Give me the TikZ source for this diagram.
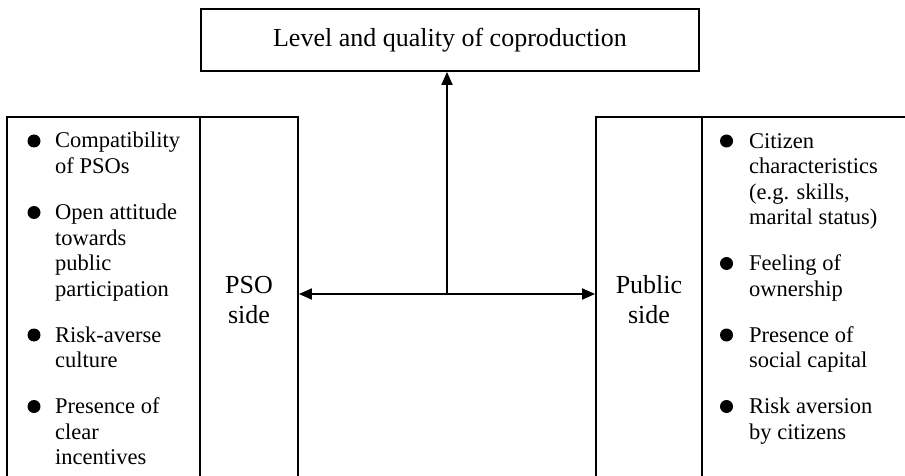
\documentclass[tikz,border=0pt]{standalone}
\usepackage{fontspec}
\setmainfont{Liberation Serif}
\usetikzlibrary{arrows.meta}
\begin{document}
\begin{tikzpicture}[x=1pt,y=-1pt,
  frame/.style={draw, line width=1.9pt, inner sep=0pt},
  conn/.style={line width=1.9pt, -{Triangle[length=13pt,width=11pt]}},
  % multi-line nodes: the base anchor sits on the last line
  item/.style={anchor=base west, inner sep=0pt, align=left,
    font=\fontsize{22.5}{25.5}\selectfont},
  sidelabel/.style={anchor=base, inner sep=0pt, align=center,
    font=\fontsize{26}{30.5}\selectfont},
  dot/.style={circle, fill, inner sep=0pt, minimum size=13pt}]
\useasboundingbox (0,0) rectangle (905,476);
\clip (0,0) rectangle (905,476);

% outcome box
\node[frame, minimum width=498pt, minimum height=62pt,
  font=\fontsize{26}{30}\selectfont] (top) at (450,40)
  {Level and quality of coproduction};

% PSO side: list column and label column
\node[frame, minimum width=193pt, minimum height=420pt] (psolist) at (103.5,327) {};
\node[frame, minimum width=98pt, minimum height=420pt] (psocol) at (249,327) {};
\node[sidelabel] (pso) at (249,323.5) {PSO\\side};

% public side: label column and list column
\node[frame, minimum width=106pt, minimum height=420pt] (pubcol) at (649,327) {};
\node[frame, minimum width=240pt, minimum height=420pt] (publist) at (822,327) {};
\node[sidelabel] (pub) at (649,323.5) {Public\\side};

% PSO side factors
\node[dot] (b1) at (34,141) {};
\node[item] (l1) at (55,173.5) {Compatibility\\of PSOs};
\node[dot] (b2) at (34,212.5) {};
\node[item] (l2) at (55,296) {Open attitude\\towards\\public\\participation};
\node[dot] (b3) at (34,335) {};
\node[item] (l3) at (55,367.5) {Risk-averse\\culture};
\node[dot] (b4) at (34,406.5) {};
\node[item] (l4) at (55,464.5) {Presence of\\clear\\incentives};

% public side factors
\node[dot] (c1) at (726.5,141) {};
\node[item] (r1) at (749,224.5) {Citizen\\characteristics\\(e.g. skills,\\marital status)};
\node[dot] (c2) at (726.5,263.5) {};
\node[item] (r2) at (749,296) {Feeling of\\ownership};
\node[dot] (c3) at (726.5,335) {};
\node[item] (r3) at (749,367.5) {Presence of\\social capital};
\node[dot] (c4) at (726.5,406.5) {};
\node[item] (r4) at (749,439) {Risk aversion\\by citizens};

% connectors
\coordinate (j) at (447,294);
\draw[conn] (j) -- (j -| psocol.east);
\draw[conn] (j) -- (j -| pubcol.west);
\draw[conn] (j) -- (j |- top.south);
\end{tikzpicture}
\end{document}
